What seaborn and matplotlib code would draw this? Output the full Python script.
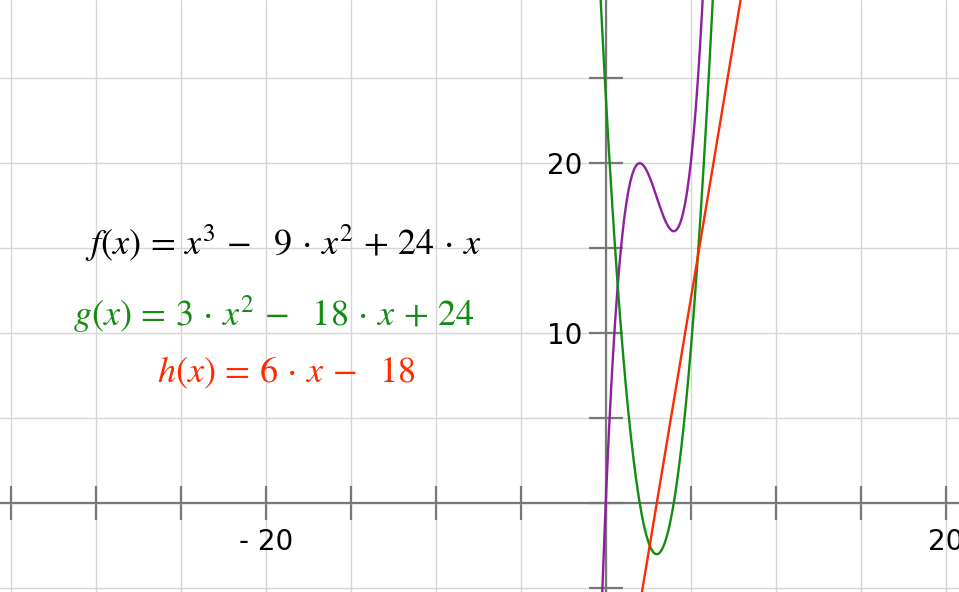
import numpy as np
import pandas as pd
import matplotlib
matplotlib.use("Agg")
import matplotlib.pyplot as plt
import seaborn as sns

# polynomial coefficients (highest power first), as printed on the chart
f_coeffs = [1, -9, 24, 0]
g_coeffs = [3, -18, 24]
h_coeffs = [6, -18]

f_label = r"$f(x)\,=\,x^3\,-\ \ 9\,\cdot\,x^2\,+\,24\,\cdot\,x$"
g_label = r"$g(x)\,=\,3\,\cdot\,x^2\,-\ \ 18\,\cdot\,x\,+\,24$"
h_label = r"$h(x)\,=\,6\,\cdot\,x\,-\ \ 18$"

x_ticks = [-35, -30, -25, -20, -15, -10, -5, 0, 5, 10, 15, 20]
y_ticks = [-5, 0, 5, 10, 15, 20, 25]
x_ticklabels = {-20: "- 20", 20: "20"}
y_ticklabels = {10: "10", 20: "20"}

colors = {"f": "#8e1f9e", "g": "#128c12", "h": "#ff2a00"}

sns.set_style("white")
plt.rcParams["mathtext.fontset"] = "stix"
plt.rcParams["font.family"] = ["DejaVu Sans"]

fig = plt.figure(figsize=(9.59, 5.92), dpi=100)
ax = fig.add_axes([0, 0, 1, 1])

xs = np.linspace(-36, 21, 3000)
df = pd.DataFrame({
    "x": xs,
    "f": np.polyval(f_coeffs, xs),
    "g": np.polyval(g_coeffs, xs),
    "h": np.polyval(h_coeffs, xs),
})
for name in ["f", "g", "h"]:
    sns.lineplot(data=df, x="x", y=name, ax=ax, color=colors[name],
                 linewidth=1.7, legend=False, zorder=3, estimator=None)

ax.set_xlim(-35.63, 20.78)
ax.set_ylim(-5.22, 29.6)

# axes through the origin
for side in ["top", "right"]:
    ax.spines[side].set_visible(False)
ax.spines["left"].set_position(("data", 0))
ax.spines["bottom"].set_position(("data", 0))
for side in ["left", "bottom"]:
    ax.spines[side].set_color("#777777")
    ax.spines[side].set_linewidth(1.6)
    ax.spines[side].set_zorder(2)

ax.set_xticks(x_ticks)
ax.set_yticks(y_ticks)
ax.set_xticklabels([x_ticklabels.get(t, "") for t in x_ticks])
ax.set_yticklabels([y_ticklabels.get(t, "") for t in y_ticks])
ax.tick_params(axis="both", direction="inout", length=25, width=1.6,
               color="#777777", labelsize=20, labelcolor="black",
               bottom=True, left=True)
ax.tick_params(axis="x", pad=5)
ax.tick_params(axis="y", pad=4)
ax.grid(True, color="#d6d6d6", linewidth=1)
ax.set_axisbelow(True)
ax.set_xlabel("")
ax.set_ylabel("")

ax.text(-19.0, 15.3, f_label, color="black", fontsize=26, ha="center", va="center")
ax.text(-19.5, 11.1, g_label, color=colors["g"], fontsize=26, ha="center", va="center")
ax.text(-18.8, 7.67, h_label, color=colors["h"], fontsize=26, ha="center", va="center")

fig.savefig("out.png", dpi=100)
